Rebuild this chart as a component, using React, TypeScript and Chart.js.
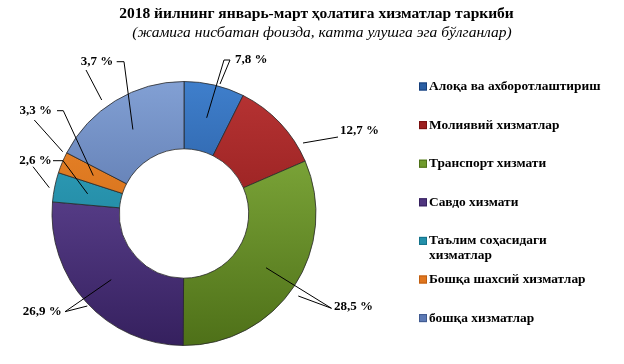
import React, { useEffect, useRef } from "react";
import { Chart, registerables } from "chart.js";

Chart.register(...registerables);

// ---------- data ----------
const TITLE = "2018 йилнинг январь-март ҳолатига хизматлар таркиби";
const SUBTITLE = "(жамига нисбатан фоизда, катта улушга эга бўлганлар)";
const CATEGORIES = [
  "Алоқа ва ахборотлаштириш",
  "Молиявий хизматлар",
  "Транспорт хизмати",
  "Савдо хизмати",
  "Таълим соҳасидаги хизматлар",
  "Бошқа шахсий хизматлар",
  "бошқа хизматлар",
];
// slice shares as drawn in the picture (angles)
const SLICE_SHARES = [7.4, 11.1, 31.6, 26.3, 3.6, 2.6, 17.4];
// data label texts as printed on the picture
const LABEL_TEXTS = ["7,8 %", "12,7 %", "28,5 %", "26,9 %", "2,6 %", "3,3 %", "3,7 %"];

// ---------- styles ----------
const COLORS_LIGHT = ["#3f7fcc", "#b83434", "#8cb844", "#6f52a6", "#36aac6", "#f08a2c", "#82a0d4"];
const COLORS_DARK = ["#173f7a", "#7a1010", "#4e7018", "#35205e", "#14728a", "#c05e10", "#405a90"];
const COLORS_BASE = ["#2a5ea3", "#9c1f1f", "#6f9a2c", "#50357f", "#2390aa", "#e0761f", "#5d7ab5"];
const FONT = "'Times New Roman', 'Liberation Serif', serif";

// label layout: offsets (px) from the doughnut centre
type Pt = [number, number];
interface LabelLayout {
  text: Pt;
  align: CanvasTextAlign;
  dash?: [Pt, Pt];
  inner?: Pt;
  extra?: [Pt, Pt];
}
const LABEL_LAYOUT: LabelLayout[] = [
  { text: [51, -153.5], align: "left", dash: [[40, -153.5], [46, -153.5]], inner: [40, -153.5], extra: [[46, -153.5], [36, -129.5]] },
  { text: [156, -82.5], align: "left", extra: [[154, -76.5], [119, -70.5]] },
  { text: [150, 93.5], align: "left", inner: [147.5, 94.8], extra: [[147.5, 94.8], [114.3, 82.5]] },
  { text: [-122.3, 98.2], align: "right", inner: [-119, 98.2], extra: [[-119, 98.2], [-96.7, 92.5]] },
  { text: [-132.3, -52.8], align: "right", dash: [[-131, -52.8], [-121, -52.8]], inner: [-121, -52.8], extra: [[-151, -46.8], [-134.7, -25.8]] },
  { text: [-132, -102.8], align: "right", dash: [[-127, -102.8], [-120.7, -102.8]], inner: [-120.7, -102.8], extra: [[-149.7, -93.5], [-121.3, -61.8]] },
  { text: [-70.7, -151.8], align: "right", dash: [[-67.3, -151.8], [-60, -151.8]], inner: [-60, -151.8], extra: [[-98, -143.5], [-82.3, -113.5]] },
];

const LEGEND_X = 419;
const LEGEND_TOP = 86.5;
const LEGEND_STEP = 38.6;
const LEGEND_LINE_H = 14.4;

function wrapLegend(label: string): string[] {
  if (label === "Таълим соҳасидаги хизматлар") return ["Таълим соҳасидаги", "хизматлар"];
  return [label];
}

const overlayPlugin = {
  id: "overlay",
  afterDatasetsDraw(chart: any) {
    const ctx: CanvasRenderingContext2D = chart.ctx;
    const meta = chart.getDatasetMeta(0);
    ctx.save();
    // title
    ctx.fillStyle = "#000";
    ctx.textBaseline = "middle";
    ctx.textAlign = "center";
    ctx.font = `bold 15.5px ${FONT}`;
    ctx.fillText(TITLE, 316.5, 13.5);
    ctx.font = `italic 15.5px ${FONT}`;
    ctx.fillText(SUBTITLE, 322, 33);

    // labels with leader lines
    ctx.strokeStyle = "#000";
    ctx.lineWidth = 1;
    meta.data.forEach((arc: any, i: number) => {
      const p = arc.getProps(["x", "y", "startAngle", "endAngle", "innerRadius", "outerRadius"], true);
      const cx = p.x, cy = p.y;
      const lay = LABEL_LAYOUT[i];
      const mid = (p.startAngle + p.endAngle) / 2;
      const rm = (p.innerRadius + p.outerRadius) / 2;
      const mx = cx + Math.cos(mid) * rm;
      const my = cy + Math.sin(mid) * rm;
      const seg = (a: Pt, b: Pt) => {
        ctx.beginPath();
        ctx.moveTo(cx + a[0], cy + a[1]);
        ctx.lineTo(cx + b[0], cy + b[1]);
        ctx.stroke();
      };
      if (lay.dash) seg(lay.dash[0], lay.dash[1]);
      if (lay.extra) seg(lay.extra[0], lay.extra[1]);
      if (lay.inner) {
        ctx.beginPath();
        ctx.moveTo(cx + lay.inner[0], cy + lay.inner[1]);
        ctx.lineTo(mx, my);
        ctx.stroke();
      }
      ctx.font = `bold 13px ${FONT}`;
      ctx.textAlign = lay.align;
      ctx.fillText(LABEL_TEXTS[i], cx + lay.text[0], cy + lay.text[1]);
    });

    // legend
    ctx.font = `bold 13.4px ${FONT}`;
    ctx.textAlign = "left";
    CATEGORIES.forEach((c, i) => {
      const y = LEGEND_TOP + i * LEGEND_STEP;
      ctx.fillStyle = COLORS_BASE[i];
      ctx.fillRect(LEGEND_X, y - 4, 8, 8);
      ctx.strokeStyle = COLORS_DARK[i];
      ctx.strokeRect(LEGEND_X + 0.5, y - 3.5, 7, 7);
      ctx.fillStyle = "#000";
      wrapLegend(c).forEach((line, k) => {
        ctx.fillText(line, LEGEND_X + 10, y + k * LEGEND_LINE_H);
      });
    });
    ctx.restore();
  },
};

export default function App() {
  const ref = useRef<HTMLCanvasElement | null>(null);
  useEffect(() => {
    if (!ref.current) return;
    const chart = new Chart(ref.current, {
      type: "doughnut",
      data: {
        labels: CATEGORIES,
        datasets: [
          {
            data: SLICE_SHARES,
            backgroundColor: (c: any) => {
              const ch = c.chart;
              const area = ch.chartArea;
              const i = c.dataIndex;
              if (!area) return COLORS_BASE[i];
              const g = ch.ctx.createLinearGradient(0, area.top, 0, area.bottom);
              g.addColorStop(0, COLORS_LIGHT[i]);
              g.addColorStop(1, COLORS_DARK[i]);
              return g;
            },
            borderColor: "rgba(40,40,40,0.8)",
            borderWidth: 1,
          },
        ],
      },
      options: {
        responsive: false,
        animation: false,
        cutout: "49%",
        layout: { padding: { left: 51.5, top: 81, right: 307.5, bottom: 18 } },
        plugins: {
          legend: { display: false },
          title: { display: false },
          tooltip: { enabled: false },
        },
      },
      plugins: [overlayPlugin],
    });
    return () => chart.destroy();
  }, []);
  return (
    <div style={{ position: "absolute", left: 0, top: 0, width: 624, height: 364, background: "#fff" }}>
      <canvas ref={ref} width={624} height={364} />
    </div>
  );
}
